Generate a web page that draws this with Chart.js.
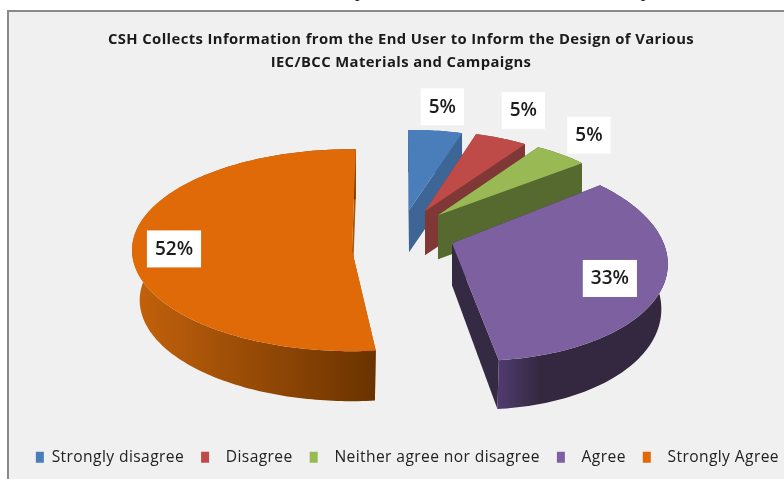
<!DOCTYPE html>
<html>
<head>
<meta charset="utf-8">
<title>CSH end user information</title>
<style>
  html, body { margin: 0; padding: 0; width: 784px; height: 479px; overflow: hidden; background: #fff; }
  #line { position: absolute; left: 23px; top: -19px; white-space: nowrap; font: 18px "Liberation Serif", serif; color: #222; word-spacing: 5px; }
  #panel { position: absolute; left: 7px; top: 10px; width: 820px; height: 520px; box-sizing: border-box; background: #f0f0f0; border: 2px solid #8a8a8a; }
  canvas { position: absolute; left: 0; top: 0; }
</style>
<script src="https://cdn.jsdelivr.net/npm/chart.js@4/dist/chart.umd.min.js"></script>
</head>
<body>
<div id="line">it had to be collected to know the development in between what the various products</div>
<div id="panel"></div>
<canvas id="pie" width="796" height="475"></canvas>
<script>
const titleLines = [
  'CSH Collects Information from the End User to Inform the Design of Various',
  'IEC/BCC Materials and Campaigns'
];
const categories = ['Strongly disagree', 'Disagree', 'Neither agree nor disagree', 'Agree', 'Strongly Agree'];
const shares = [5, 5, 5, 33, 52];
const topColors = ['#4a7ebb', '#be4b48', '#98b954', '#7d60a0', '#e06a08'];
const sideColors = ['#3d6696', '#7f3835', '#566a30', '#352a44', '#a85508'];
const rimStops = [
  [[0, '#3d6696'], [1, '#3d6696']],
  [[0, '#7f3835'], [1, '#7f3835']],
  [[0, '#566a30'], [1, '#566a30']],
  [[0, '#4f3b6e'], [0.25, '#33283f'], [1, '#33283f']],
  [[0, '#c4620c'], [1, '#6a3300']]
];

// Each exploded slice has its own view of the tilted disc, in outer-radius units:
// tip offset from the pie centre, a 2x2 plane matrix and a perspective term.
const tipOffsets = [[0.08, -0.43], [0.24, -0.42], [0.37, -0.38], [0.51, -0.10], [-0.49, -0.03]];
const planes = [
  [1.745, 0.04, -0.043, 0.80],
  [1.742, 0.0605, -0.06, 0.794],
  [1.865, 0.153, -0.082, 0.79],
  [2.024, 0.1845, -0.032, 1.014],
  [2.20, 0, 0, 1.01]
];
const perspectives = [[0, 0], [0, 0], [0, 0], [-0.0369, -0.1378], [0, 0]];
const thickness = [0.42, 0.44, 0.44, 0.42, 0.50];
const baseNarrowing = [1, 1, 1, 0.97, 0.965];

// Value tags: radial position along the slice's middle, then a small vertical/horizontal nudge.
const tagRadius = [1.30, 1.30, 1.25, 0.77, 0.81];
const tagNudge = [[-1, 0], [-1, -6], [-3.5, -4], [-1, 3], [0, -5]];

const bodyFont = '"Open Sans", Lato, sans-serif';
const trackedText = '0.4px';

function viewOf(arc, i) {
  const R = arc.outerRadius;
  const [a, c, d, e] = planes[i];
  const [p, q] = perspectives[i];
  const tx = arc.x + tipOffsets[i][0] * R;
  const ty = arc.y + tipOffsets[i][1] * R;
  return {
    tx, ty, R,
    at(angle, r) {
      const u = r * Math.cos(angle), v = r * Math.sin(angle);
      const w = 1 + p * u + q * v;
      return { x: tx + R * (a * u + c * v) / w, y: ty + R * (d * u + e * v) / w, w };
    },
    base(pt) {
      return {
        x: tx + (pt.x - tx) * baseNarrowing[i],
        y: pt.y + thickness[i] * R / pt.w
      };
    }
  };
}

function sweep(arc) {
  const steps = Math.max(8, Math.ceil((arc.endAngle - arc.startAngle) / 0.02));
  const out = [];
  for (let k = 0; k <= steps; k++) {
    out.push(arc.startAngle + (arc.endAngle - arc.startAngle) * k / steps);
  }
  return out;
}

function fillPath(ctx, pts, fill) {
  ctx.beginPath();
  pts.forEach((pt, k) => k ? ctx.lineTo(pt.x, pt.y) : ctx.moveTo(pt.x, pt.y));
  ctx.closePath();
  ctx.fillStyle = fill;
  ctx.fill();
}

// Paints the pie's arcs as thick tilted wedges, back to front.
const tiltedWedges = {
  id: 'tiltedWedges',
  beforeLayout(chart) {
    chart.ctx.letterSpacing = trackedText;
  },
  beforeDraw(chart) {
    chart.ctx.letterSpacing = trackedText;
  },
  beforeDatasetDraw(chart, args) {
    const ctx = chart.ctx;
    args.meta.data.forEach((arc, i) => {
      const view = viewOf(arc, i);
      const rim = sweep(arc).map(angle => view.at(angle, 1));
      const rimBase = rim.map(view.base);
      const tip = { x: view.tx, y: view.ty, w: 1 };
      const tipBase = view.base(tip);
      const first = rim[0], last = rim[rim.length - 1];

      ctx.save();
      fillPath(ctx, [tip, first, rimBase[0], tipBase], sideColors[i]);
      fillPath(ctx, [tip, last, rimBase[rimBase.length - 1], tipBase], sideColors[i]);

      const xs = rim.map(pt => pt.x);
      const shade = ctx.createLinearGradient(Math.min(...xs), 0, Math.max(...xs), 0);
      rimStops[i].forEach(([pos, col]) => shade.addColorStop(pos, col));
      fillPath(ctx, rim.concat(rimBase.slice().reverse()), shade);

      fillPath(ctx, [tip].concat(rim), topColors[i]);
      ctx.restore();
    });
    return false;
  },
  afterDatasetsDraw(chart) {
    const ctx = chart.ctx;
    chart.getDatasetMeta(0).data.forEach((arc, i) => {
      const view = viewOf(arc, i);
      const mid = (arc.startAngle + arc.endAngle) / 2;
      const spot = view.at(mid, tagRadius[i]);
      const text = shares[i] + '%';
      const cx = spot.x + tagNudge[i][0], cy = spot.y + tagNudge[i][1];
      ctx.save();
      ctx.letterSpacing = '0px';
      ctx.font = '600 19px ' + bodyFont;
      const w = ctx.measureText(text).width + 16;
      ctx.fillStyle = '#ffffff';
      ctx.fillRect(cx - w / 2, cy - 18.5, w, 37);
      ctx.fillStyle = '#1c1c1c';
      ctx.textAlign = 'center';
      ctx.textBaseline = 'middle';
      ctx.fillText(text, cx, cy + 0.5);
      ctx.restore();
    });
  }
};

new Chart(document.getElementById('pie'), {
  type: 'pie',
  plugins: [tiltedWedges],
  data: {
    labels: categories,
    datasets: [{ data: shares, backgroundColor: topColors, borderWidth: 0 }]
  },
  options: {
    responsive: false,
    animation: false,
    rotation: 1,
    radius: 100,
    layout: { padding: { left: 6, right: 0, top: 0, bottom: 0 } },
    plugins: {
      tooltip: { enabled: false },
      title: {
        display: true,
        text: titleLines,
        color: '#1a1a1a',
        font: { family: bodyFont, size: 14.8, weight: 'bold', lineHeight: 1.554 },
        padding: { top: 28, bottom: 0 }
      },
      legend: {
        position: 'bottom',
        align: 'end',
        labels: {
          color: '#222222',
          font: { family: bodyFont, size: 15.6 },
          boxWidth: 8,
          boxHeight: 11,
          padding: 17,
          // Every entry after the first sits a little further from its swatch.
          generateLabels(chart) {
            return Chart.overrides.pie.plugins.legend.labels.generateLabels(chart)
              .map((item, i) => ({ ...item, text: (i ? '  ' : '') + item.text }));
          }
        }
      }
    }
  }
});
</script>
</body>
</html>
